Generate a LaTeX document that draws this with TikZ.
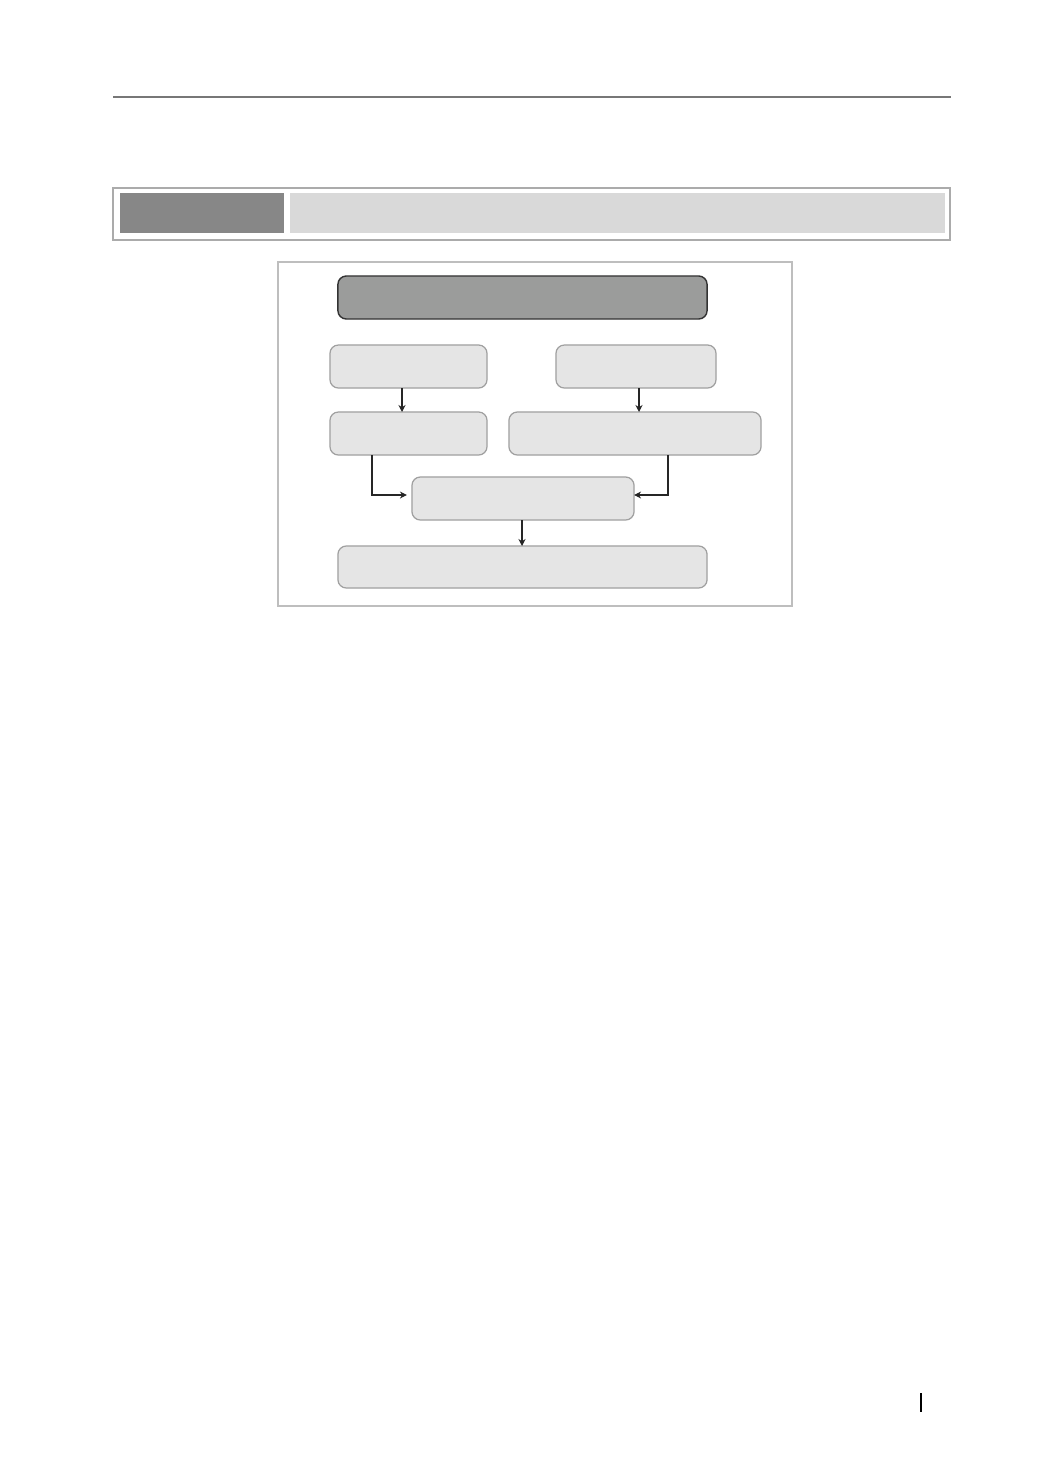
\documentclass[tikz,border=0pt]{standalone}
\usepackage{xcolor}
\usetikzlibrary{arrows.meta}
\usetikzlibrary{calc}
\definecolor{rulegray}{HTML}{777777}
\definecolor{headdark}{HTML}{878787}
\definecolor{headlight}{HTML}{D9D9D9}
\definecolor{headframe}{HTML}{ABABAB}
\definecolor{framegray}{HTML}{BEBEBE}
\definecolor{titlefill}{HTML}{9B9C9B}
\definecolor{boxfill}{HTML}{E5E5E5}
\definecolor{boxline}{HTML}{A0A0A0}
\tikzset{
    stagebox/.style={draw=boxline,fill=boxfill,line width=0.35pt,rounded corners=2.4pt,
        minimum height=4.3mm,inner sep=0pt,outer sep=0pt},
    titlebox/.style={stagebox,draw=black!80,fill=titlefill,line width=0.4pt},
    flow/.style={-{Stealth[length=2pt,width=2pt]},line width=0.3pt,black!85}
}
\begin{document}
\begin{tikzpicture}[x=0.01cm,y=-0.01cm]
   \fill[white] (0,0) rectangle (1054,1481);
   \useasboundingbox (0,0) rectangle (1054,1481);

   % page header
   \draw[rulegray,line width=0.55pt] (113,97) -- (951,97);
   \draw[headframe,line width=0.4pt] (113,188) rectangle (950,240);
   \fill[headdark] (120,193) rectangle (284,233);
   \fill[headlight] (290,193) rectangle (945,233);

   % figure frame
   \draw[framegray,line width=0.3pt] (278,262) rectangle (792,606);

   \node[titlebox,minimum width=36.9mm] (title) at (522.5,297.5) {};
   \node[stagebox,minimum width=15.7mm] (left1) at (408.5,366.5) {};
   \node[stagebox,minimum width=16mm] (right1) at (636,366.5) {};
   \node[stagebox,minimum width=15.7mm] (left2) at (408.5,433.5) {};
   \node[stagebox,minimum width=25.2mm] (right2) at (635,433.5) {};
   \node[stagebox,minimum width=22.2mm] (merge) at (523,498.5) {};
   \node[stagebox,minimum width=36.9mm,minimum height=4.2mm] (result) at (522.5,567) {};

   \draw[flow] (left1.south -| 402,0) -- (left2.north -| 402,0);
   \draw[flow] (right1.south -| 639,0) -- (right2.north -| 639,0);
   \draw[flow] (left2.south -| 372,0) |- ([xshift=-0.5mm,yshift=0.35mm]merge.west);
   \draw[flow] (right2.south -| 668,0) |- ([yshift=0.35mm]merge.east);
   \draw[flow] (merge.south -| 522,0) -- (result.north -| 522,0);

   % page number mark
   \draw[black,line width=0.4pt] (921,1393) -- (921,1412);
\end{tikzpicture}
\end{document}
